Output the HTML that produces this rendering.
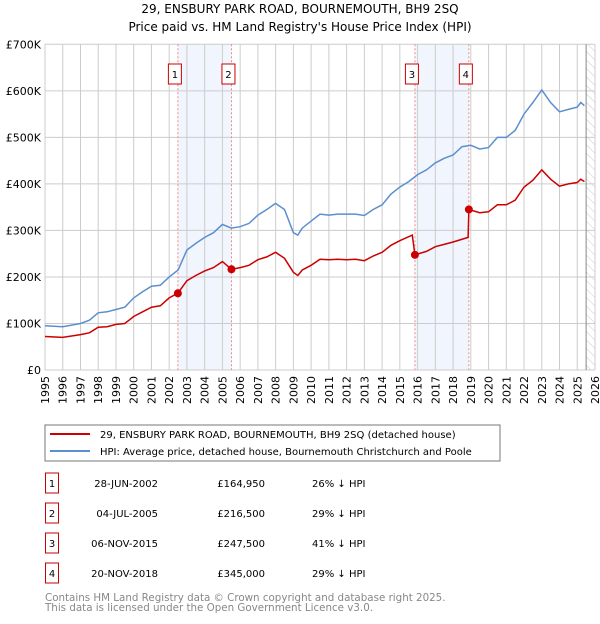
<!DOCTYPE html>
<html><head><meta charset="utf-8"><style>
body{margin:0;background:#fff;font-family:"DejaVu Sans","Liberation Sans",sans-serif;}
svg text{font-family:"DejaVu Sans","Liberation Sans",sans-serif;}
</style></head><body>
<svg id="c" width="600" height="620" xmlns="http://www.w3.org/2000/svg">
<defs><pattern id="hatch" width="6" height="6" patternUnits="userSpaceOnUse" patternTransform="rotate(-45)"><line x1="0" y1="0" x2="0" y2="6" stroke="#ccc" stroke-width="1"/></pattern></defs>
<text x="300" y="13" text-anchor="middle" font-size="12">29, ENSBURY PARK ROAD, BOURNEMOUTH, BH9 2SQ</text>
<text x="300" y="31" text-anchor="middle" font-size="12">Price paid vs. HM Land Registry's House Price Index (HPI)</text>
<g id="plot"></g>
<rect x="45" y="425" width="455" height="36" fill="#fff" stroke="#777"/>
<line x1="50" y1="434" x2="90" y2="434" stroke="#cc0000" stroke-width="2"/>
<text x="100" y="438" font-size="10">29, ENSBURY PARK ROAD, BOURNEMOUTH, BH9 2SQ (detached house)</text>
<line x1="50" y1="451" x2="90" y2="451" stroke="#5b8fd0" stroke-width="2"/>
<text x="100" y="455" font-size="10">HPI: Average price, detached house, Bournemouth Christchurch and Poole</text>
<g id="table"></g>
<text x="45" y="601" font-size="10.3" fill="#888">Contains HM Land Registry data © Crown copyright and database right 2025.</text>
<text x="45" y="611" font-size="10.3" fill="#888">This data is licensed under the Open Government Licence v3.0.</text>
</svg>
<script>
const hpiYears=[1995,1996,1997,1997.5,1998,1998.5,1999,1999.5,2000,2000.5,2001,2001.5,2002,2002.5,2003,2003.5,2004,2004.5,2005,2005.5,2006,2006.5,2007,2007.5,2008,2008.5,2009,2009.25,2009.5,2010,2010.5,2011,2011.5,2012,2012.5,2013,2013.5,2014,2014.5,2015,2015.5,2016,2016.5,2017,2017.5,2018,2018.5,2019,2019.5,2020,2020.5,2021,2021.5,2022,2022.5,2023,2023.5,2024,2024.5,2025,2025.2,2025.4];
const hpiValues=[95,93,100,107,123,125,130,135,155,168,180,182,200,215,258,272,285,295,313,305,308,315,333,345,358,345,295,290,305,320,335,333,335,335,335,332,345,355,378,393,405,420,430,445,455,462,480,483,475,478,500,500,515,550,575,602,575,555,560,565,575,568];
const ppYears=[1995,1996,1997,1997.5,1998,1998.5,1999,1999.5,2000,2000.5,2001,2001.5,2002,2002.49,2003,2003.5,2004,2004.5,2005,2005.51,2006,2006.5,2007,2007.5,2008,2008.5,2009,2009.25,2009.5,2010,2010.5,2011,2011.5,2012,2012.5,2013,2013.5,2014,2014.5,2015,2015.7,2015.85,2016.5,2017,2017.5,2018,2018.85,2018.89,2019.5,2020,2020.5,2021,2021.5,2022,2022.5,2023,2023.5,2024,2024.5,2025,2025.2,2025.4];
const ppValues=[72,70,76,80,92,93,98,100,115,125,135,138,155,165,192,203,213,220,233,216.5,220,225,237,243,253,240,210,203,215,225,238,237,238,237,238,235,245,253,268,278,290,247.5,255,265,270,275,285,345,338,340,355,355,365,393,408,430,410,395,400,403,410,405];
const saleYears=[2002.49,2005.51,2015.85,2018.89];
const saleValues=[164.95,216.5,247.5,345];
const saleLabels=["1","2","3","4"];
const saleDates=["28-JUN-2002","04-JUL-2005","06-NOV-2015","20-NOV-2018"];
const salePrices=["£164,950","£216,500","£247,500","£345,000"];
const saleDiffs=["26% ↓ HPI","29% ↓ HPI","41% ↓ HPI","29% ↓ HPI"];
const yTicks=[0,100,200,300,400,500,600,700];
const yLabels=["£0","£100K","£200K","£300K","£400K","£500K","£600K","£700K"];
const xTicks=[1995,1996,1997,1998,1999,2000,2001,2002,2003,2004,2005,2006,2007,2008,2009,2010,2011,2012,2013,2014,2015,2016,2017,2018,2019,2020,2021,2022,2023,2024,2025,2026];

const X0=45,X1=595,Y0=370,Y1=44.3;
const xs=y=>X0+(y-1995)/(2026-1995)*(X1-X0);
const ys=v=>Y0-v/700*(Y0-Y1);
const NS="http://www.w3.org/2000/svg";
const plot=document.getElementById('plot');
function mk(tag,attrs,parent){const e=document.createElementNS(NS,tag);for(const k in attrs)e.setAttribute(k,attrs[k]);(parent||plot).appendChild(e);return e;}
let e;
e=mk('rect',{x:X0,y:Y1,width:X1-X0,height:Y0-Y1,fill:'#fff'});


for(let i=0;i<2;i++){
 e=mk('rect',{x:xs(saleYears[i*2]),y:Y1,width:xs(saleYears[i*2+1])-xs(saleYears[i*2]),height:Y0-Y1,fill:'#eef3fc',opacity:0.8});
 
 
}
e=mk('rect',{x:xs(2025.5),y:Y1,width:X1-xs(2025.5),height:Y0-Y1,fill:'url(#hatch)'});


xTicks.forEach(t=>{
 e=mk('line',{x1:xs(t),x2:xs(t),y1:Y1,y2:Y0,stroke:'#ccc','stroke-width':1});
 
 
 e=mk('text',{x:0,y:0,transform:`translate(${xs(t)+4},${Y0+6}) rotate(-90)`,'text-anchor':'end','font-size':11});
 e.textContent=t;
 
 
});
yTicks.forEach((t,i)=>{
 e=mk('line',{x1:X0,x2:X1,y1:ys(t),y2:ys(t),stroke:'#ccc','stroke-width':1});
 
 
 e=mk('text',{x:X0-4,y:ys(t)+4,'text-anchor':'end','font-size':11});
 e.textContent=yLabels[i];
 
 
});
e=mk('line',{x1:xs(2025.5),x2:xs(2025.5),y1:Y1,y2:Y0,stroke:'#888','stroke-width':1});


saleYears.forEach((y,i)=>{
 e=mk('line',{x1:xs(y),x2:xs(y),y1:Y1,y2:Y0,stroke:'#f08a8a','stroke-width':1,'stroke-dasharray':'2,2'});
 
 
});
function line(xa,va,col,name){
 e=mk('polyline',{points:xa.map((x,i)=>xs(x).toFixed(1)+','+ys(va[i]).toFixed(1)).join(' '),fill:'none',stroke:col,'stroke-width':1.5});
 
 
}
line(hpiYears,hpiValues,'#5b8fd0','hpi-line');
line(ppYears,ppValues,'#cc0000','price-paid-line');
saleYears.forEach((y,i)=>{
 e=mk('circle',{cx:xs(y),cy:ys(saleValues[i]),r:4,fill:'#cc0000'});
 
 
 e=mk('rect',{x:xs(y)-9.5,y:64,width:13,height:20,fill:'#fff',stroke:'#cc0000'});
 
 
 e=mk('text',{x:xs(y)-3,y:78,'text-anchor':'middle','font-size':10});
 e.textContent=saleLabels[i];
 
 
});
const tbl=document.getElementById('table');
saleLabels.forEach((l,i)=>{
 const cy=483+i*30;
 e=mk('rect',{x:45.5,y:cy-10,width:13,height:20,fill:'#fff',stroke:'#cc0000'},tbl);
 
 
 e=mk('text',{x:52,y:cy+4,'text-anchor':'middle','font-size':10},tbl);
 e.textContent=l;
 
 
 e=mk('text',{x:158,y:cy+4,'text-anchor':'end','font-size':10},tbl);
 e.textContent=saleDates[i];
 
 
 e=mk('text',{x:265,y:cy+4,'text-anchor':'end','font-size':10},tbl);
 e.textContent=salePrices[i];
 
 
 e=mk('text',{x:312,y:cy+4,'font-size':10},tbl);
 e.textContent=saleDiffs[i];
 
 
});
</script>
</body></html>
